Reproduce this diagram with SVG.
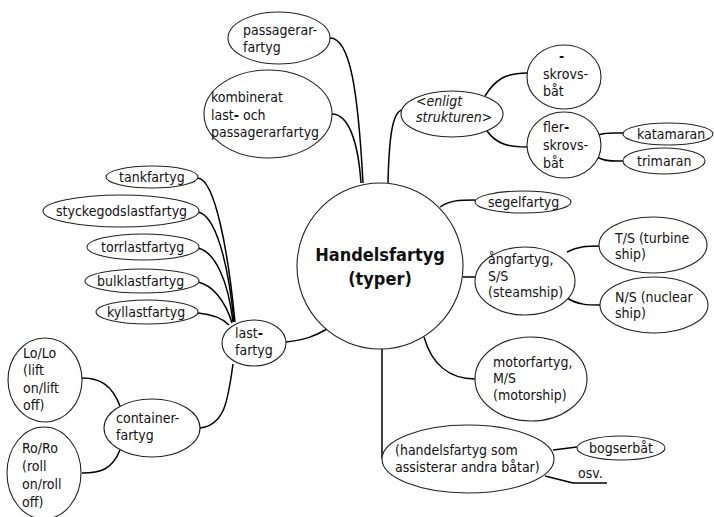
<svg xmlns="http://www.w3.org/2000/svg" width="714" height="517" viewBox="0 0 714 517">
  <style>
    .n { fill: #fff; stroke: #222; stroke-width: 1.1; }
    .t { font-family: "DejaVu Sans Condensed", "DejaVu Sans", sans-serif; font-stretch: condensed; font-size: 14px; fill: #111; }
    .i { font-style: italic; }
    .h { font-weight: bold; }
    .big { font-size: 18px; font-weight: bold; text-anchor: middle; }
    .c path { fill: none; stroke: #000; stroke-width: 1.5; }
  </style>
  <rect width="714" height="517" fill="#fff"/>

  <!-- connectors -->
  <g id="connectors" class="c">
    <path d="M330,38 C350,38 358,90 363,183"/>
    <path d="M332,114 C348,114 358,140 361,183"/>
    <path d="M402,110 C392,112 389,140 388,183"/>
    <path d="M485,96 C495,80 505,73 527,73"/>
    <path d="M487,131 C497,145 510,147 527,147"/>
    <path d="M598,135 C605,132 615,133 623,133"/>
    <path d="M597,157 C605,162 615,161 623,161"/>
    <path d="M440,207 C450,200 460,200 475,200"/>
    <path d="M463,277 L475,277"/>
    <path d="M567,252 C578,246 588,246 600,246"/>
    <path d="M567,298 C578,305 588,305 600,305"/>
    <path d="M424,337 C432,365 450,379 475,379"/>
    <path d="M382,349 L382,459"/>
    <path d="M553,450 L577,447"/>
    <path d="M545,476 L573,483 L607,483"/>
    <path d="M286,342 C305,340 315,336 327,329"/>
    <path d="M233,364 C228,400 225,425 200,428"/>
    <path d="M120,406 C112,385 100,378 82,378"/>
    <path d="M120,450 C112,470 100,473 82,473"/>
    <path d="M198,178 C215,180 228,250 235,322"/>
    <path d="M198,212 C215,215 228,260 234,322"/>
    <path d="M198,248 C215,252 228,280 233,322"/>
    <path d="M198,282 C212,285 225,300 232,323"/>
    <path d="M198,313 C210,314 222,318 229,325"/>
  </g>

  <!-- central node -->
  <g id="handelsfartyg">
    <circle class="n" cx="380" cy="266" r="83"/>
    <text class="t big" x="380" y="261">Handelsfartyg</text>
    <text class="t big" x="380" y="285">(typer)</text>
  </g>

  <g id="passagerarfartyg">
    <ellipse class="n" cx="279" cy="38" rx="51" ry="26"/>
    <text class="t" x="243" y="35">passagerar-</text>
    <text class="t" x="243" y="52">fartyg</text>
  </g>

  <g id="kombinerat">
    <ellipse class="n" cx="268" cy="114" rx="64" ry="44"/>
    <text class="t" x="211" y="102">kombinerat</text>
    <text class="t" x="211" y="119.5">last<tspan class="h">-</tspan> och</text>
    <text class="t" x="211" y="137">passagerarfartyg</text>
  </g>

  <g id="enligt-strukturen">
    <ellipse class="n" cx="452" cy="114" rx="51" ry="23"/>
    <text class="t i" x="416" y="106">&lt;enligt</text>
    <text class="t i" x="416" y="122">strukturen&gt;</text>
  </g>

  <g id="skrovsbat">
    <ellipse class="n" cx="564" cy="77" rx="37" ry="32"/>
    <text class="t h" x="559" y="61">-</text>
    <text class="t" x="543" y="79">skrovs-</text>
    <text class="t" x="543" y="96">båt</text>
  </g>

  <g id="flerskrovsbat">
    <ellipse class="n" cx="564" cy="145" rx="37" ry="33"/>
    <text class="t" x="543" y="132">fler<tspan class="h">-</tspan></text>
    <text class="t" x="543" y="150">skrovs-</text>
    <text class="t" x="543" y="168">båt</text>
  </g>

  <g id="katamaran">
    <ellipse class="n" cx="668" cy="134" rx="45" ry="11"/>
    <text class="t" x="637" y="139">katamaran</text>
  </g>

  <g id="trimaran">
    <ellipse class="n" cx="664" cy="161" rx="41" ry="13"/>
    <text class="t" x="637" y="166">trimaran</text>
  </g>

  <g id="segelfartyg">
    <ellipse class="n" cx="523" cy="202" rx="48" ry="11"/>
    <text class="t" x="488" y="207">segelfartyg</text>
  </g>

  <g id="angfartyg">
    <ellipse class="n" cx="525" cy="281" rx="50" ry="34"/>
    <text class="t" x="488" y="264">ångfartyg,</text>
    <text class="t" x="488" y="281">S/S</text>
    <text class="t" x="488" y="297">(steamship)</text>
  </g>

  <g id="turbine">
    <ellipse class="n" cx="653" cy="245" rx="54" ry="28"/>
    <text class="t" x="615" y="243">T/S (turbine</text>
    <text class="t" x="615" y="259">ship)</text>
  </g>

  <g id="nuclear">
    <ellipse class="n" cx="654" cy="305" rx="54" ry="28"/>
    <text class="t" x="615" y="302">N/S (nuclear</text>
    <text class="t" x="615" y="318">ship)</text>
  </g>

  <g id="motorfartyg">
    <ellipse class="n" cx="531" cy="379" rx="56" ry="42"/>
    <text class="t" x="493" y="367">motorfartyg,</text>
    <text class="t" x="493" y="383">M/S</text>
    <text class="t" x="493" y="400">(motorship)</text>
  </g>

  <g id="assisterande">
    <ellipse class="n" cx="468" cy="459" rx="86" ry="34"/>
    <text class="t" x="395" y="455">(handelsfartyg som</text>
    <text class="t" x="395" y="472">assisterar andra båtar)</text>
  </g>

  <g id="bogserbat">
    <ellipse class="n" cx="621" cy="448" rx="44" ry="12"/>
    <text class="t" x="589" y="453">bogserbåt</text>
  </g>

  <g id="osv">
    <text class="t" x="578" y="478">osv.</text>
  </g>

  <g id="lastfartyg">
    <ellipse class="n" cx="254" cy="343" rx="32" ry="23"/>
    <text class="t" x="235" y="338">last<tspan class="h">-</tspan></text>
    <text class="t" x="235" y="355">fartyg</text>
  </g>

  <g id="tankfartyg">
    <ellipse class="n" cx="152" cy="177" rx="46" ry="11"/>
    <text class="t" x="119" y="182">tankfartyg</text>
  </g>

  <g id="styckegodslastfartyg">
    <ellipse class="n" cx="121" cy="211" rx="78" ry="16"/>
    <text class="t" x="56" y="216">styckegodslastfartyg</text>
  </g>

  <g id="torrlastfartyg">
    <ellipse class="n" cx="143" cy="247" rx="56" ry="13"/>
    <text class="t" x="101" y="252">torrlastfartyg</text>
  </g>

  <g id="bulklastfartyg">
    <ellipse class="n" cx="142" cy="281" rx="57" ry="12"/>
    <text class="t" x="97" y="286">bulklastfartyg</text>
  </g>

  <g id="kyllastfartyg">
    <ellipse class="n" cx="147" cy="312" rx="51" ry="12"/>
    <text class="t" x="107" y="317">kyllastfartyg</text>
  </g>

  <g id="containerfartyg">
    <ellipse class="n" cx="152" cy="428" rx="48" ry="29"/>
    <text class="t" x="116" y="423">container-</text>
    <text class="t" x="116" y="440">fartyg</text>
  </g>

  <g id="lolo">
    <ellipse class="n" cx="45" cy="380" rx="37" ry="42"/>
    <text class="t" x="23" y="358">Lo/Lo</text>
    <text class="t" x="23" y="375">(lift</text>
    <text class="t" x="23" y="393">on/lift</text>
    <text class="t" x="23" y="410">off)</text>
  </g>

  <g id="roro">
    <ellipse class="n" cx="44" cy="473" rx="37" ry="46"/>
    <text class="t" x="22" y="453">Ro/Ro</text>
    <text class="t" x="22" y="471">(roll</text>
    <text class="t" x="22" y="489">on/roll</text>
    <text class="t" x="22" y="507">off)</text>
  </g>
</svg>
